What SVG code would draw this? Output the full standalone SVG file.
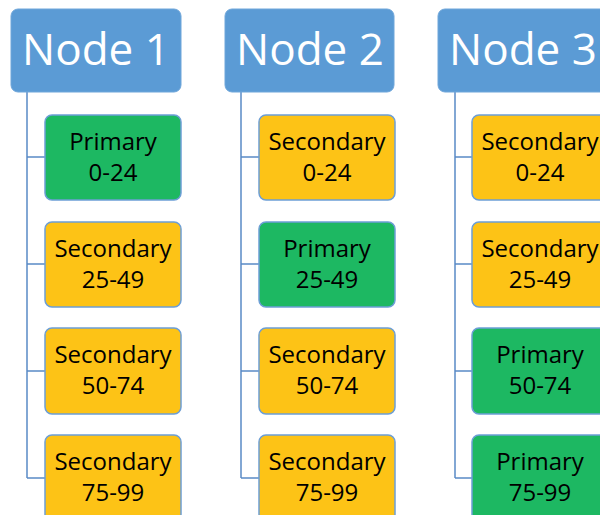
<svg xmlns="http://www.w3.org/2000/svg" width="600" height="515" viewBox="0 0 600 515">
<style>
.hdr{fill:#5B9BD5;stroke:#6FA6DA;stroke-width:1}
.g{fill:#1DB862;stroke:#6C9ED6;stroke-width:1.5}
.y{fill:#FDC316;stroke:#6C9ED6;stroke-width:1.5}
.ht{font-family:"Open Sans","Liberation Sans",sans-serif;font-size:44px;fill:#FFFFFF;text-anchor:middle}
.ct{font-family:"Open Sans","Liberation Sans",sans-serif;font-size:24px;fill:#000000;text-anchor:middle}
.c{fill:none;stroke:#5A8AC6;stroke-width:1.5}
</style>
<rect width="600" height="515" fill="#FFFFFF"/>
<g id="connectors">
<path class="c" d="M27,92 V478 M27,157 H45 M27,264 H45 M27,371 H45 M27,478 H45"/>
<path class="c" d="M241,92 V478 M241,157 H259 M241,264 H259 M241,371 H259 M241,478 H259"/>
<path class="c" d="M455,92 V478 M455,157 H472 M455,264 H472 M455,371 H472 M455,478 H472"/>
</g>
<g id="node1">
<rect class="hdr" x="11" y="9" width="170" height="83" rx="7"/>
<text class="ht" x="96" y="65">Node 1</text>
</g>
<g id="node1-0-24"><rect class="g" x="45" y="115" width="136" height="85" rx="7"/><text class="ct" x="113" y="150">Primary</text><text class="ct" x="113" y="181">0-24</text></g>
<g id="node1-25-49"><rect class="y" x="45" y="222" width="136" height="85" rx="7"/><text class="ct" x="113" y="257">Secondary</text><text class="ct" x="113" y="288">25-49</text></g>
<g id="node1-50-74"><rect class="y" x="45" y="328" width="136" height="86" rx="7"/><text class="ct" x="113" y="363">Secondary</text><text class="ct" x="113" y="394">50-74</text></g>
<g id="node1-75-99"><rect class="y" x="45" y="435" width="136" height="86" rx="7"/><text class="ct" x="113" y="470">Secondary</text><text class="ct" x="113" y="501">75-99</text></g>
<g id="node2">
<rect class="hdr" x="225" y="9" width="169" height="83" rx="7"/>
<text class="ht" x="310" y="65">Node 2</text>
</g>
<g id="node2-0-24"><rect class="y" x="259" y="115" width="136" height="85" rx="7"/><text class="ct" x="327" y="150">Secondary</text><text class="ct" x="327" y="181">0-24</text></g>
<g id="node2-25-49"><rect class="g" x="259" y="222" width="136" height="85" rx="7"/><text class="ct" x="327" y="257">Primary</text><text class="ct" x="327" y="288">25-49</text></g>
<g id="node2-50-74"><rect class="y" x="259" y="328" width="136" height="86" rx="7"/><text class="ct" x="327" y="363">Secondary</text><text class="ct" x="327" y="394">50-74</text></g>
<g id="node2-75-99"><rect class="y" x="259" y="435" width="136" height="86" rx="7"/><text class="ct" x="327" y="470">Secondary</text><text class="ct" x="327" y="501">75-99</text></g>
<g id="node3">
<rect class="hdr" x="438" y="9" width="170" height="83" rx="7"/>
<text class="ht" x="523" y="65">Node 3</text>
</g>
<g id="node3-0-24"><rect class="y" x="472" y="115" width="137" height="85" rx="7"/><text class="ct" x="540" y="150">Secondary</text><text class="ct" x="540" y="181">0-24</text></g>
<g id="node3-25-49"><rect class="y" x="472" y="222" width="137" height="85" rx="7"/><text class="ct" x="540" y="257">Secondary</text><text class="ct" x="540" y="288">25-49</text></g>
<g id="node3-50-74"><rect class="g" x="472" y="328" width="137" height="86" rx="7"/><text class="ct" x="540" y="363">Primary</text><text class="ct" x="540" y="394">50-74</text></g>
<g id="node3-75-99"><rect class="g" x="472" y="435" width="137" height="86" rx="7"/><text class="ct" x="540" y="470">Primary</text><text class="ct" x="540" y="501">75-99</text></g>
</svg>
